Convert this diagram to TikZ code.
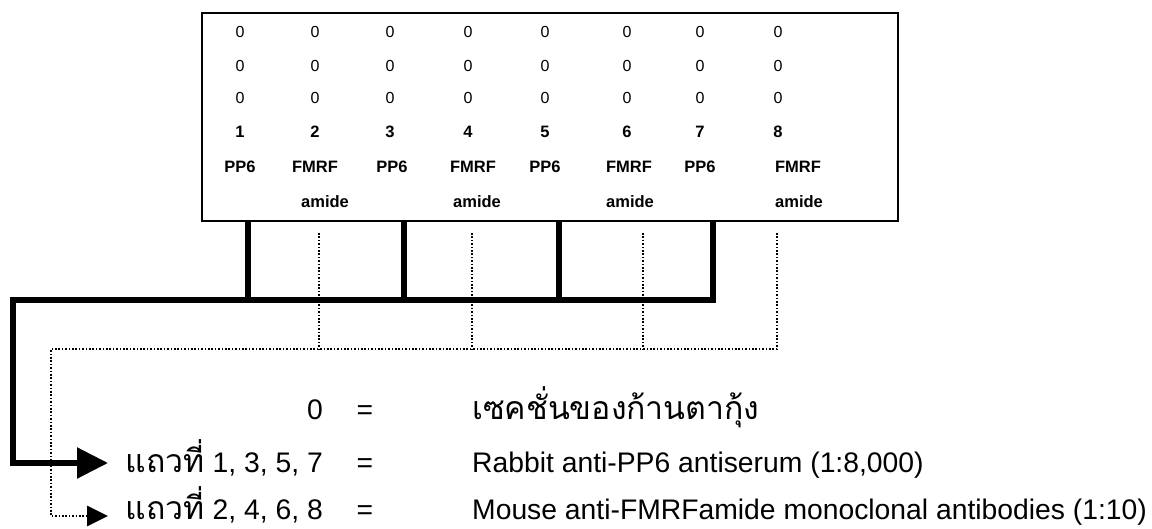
\documentclass[tikz,border=0pt]{standalone}
\usepackage{fontspec}
\setmainfont{Liberation Sans}
\newfontfamily\thaifont[Script=Thai]{Loma}
\usetikzlibrary{arrows.meta}
\newcommand{\thai}[1]{\raisebox{0pt}[\height][0pt]{\thaifont\fontsize{32}{34}\selectfont #1}}
\begin{document}
\begin{tikzpicture}[x=1pt,y=-1pt,
  cell/.style={font=\fontsize{16}{16}\selectfont, inner sep=0pt},
  bcell/.style={font=\fontsize{16.5}{16.5}\selectfont\bfseries, inner sep=0pt},
  leg/.style={font=\fontsize{28.3}{30}\selectfont, inner sep=0pt},
  frame/.style={draw, line width=1.4pt},
  solidlink/.style={line width=5.5pt, line join=miter},
  dotlink/.style={line width=2.8pt, dash pattern=on 1.7pt off 1.7pt},
  bigtip/.style={-{Triangle[length=31pt,width=30pt]}},
  smalltip/.style={-{Triangle[length=21pt,width=20pt]}}]
\useasboundingbox (0,0) rectangle (1152,529);

% box
\node[frame, minimum width=696pt, minimum height=208pt, inner sep=0pt] (box) at (550,117) {};

% zeros
\foreach \x [count=\i] in {240,315,390,468,545,627,700,778}{
  \node[cell] (za\i) at (\x,32) {0};
  \node[cell] (zb\i) at (\x,66) {0};
  \node[cell] (zc\i) at (\x,98) {0};
  \node[bcell] (n\i) at (\x,132) {\i};
}
% labels
\node[bcell] (l1) at (240,167) {PP6};
\node[bcell] (l2) at (315,167) {FMRF};
\node[bcell] (l3) at (392,167) {PP6};
\node[bcell] (l4) at (473,167) {FMRF};
\node[bcell] (l5) at (545,167) {PP6};
\node[bcell] (l6) at (629,167) {FMRF};
\node[bcell] (l7) at (700,167) {PP6};
\node[bcell] (l8) at (798,167) {FMRF};
\node[bcell] (a2) at (325,202) {amide};
\node[bcell] (a4) at (477,202) {amide};
\node[bcell] (a6) at (630,202) {amide};
\node[bcell] (a8) at (799,202) {amide};

% connector coordinates
\coordinate (s1) at (248,300);
\coordinate (s3) at (404,300);
\coordinate (s5) at (559,300);
\coordinate (s7) at (713,300);
\coordinate (sc) at (13,300);
\coordinate (sd) at (13,463);
\coordinate (st) at (108,463);

\coordinate (d2t) at (319,233);
\coordinate (d4t) at (472,233);
\coordinate (d6t) at (643,233);
\coordinate (d8t) at (777,233);
\coordinate (d2) at (319,349);
\coordinate (d4) at (472,349);
\coordinate (d6) at (643,349);
\coordinate (d8) at (777,349);
\coordinate (dc) at (51,349);
\coordinate (dd) at (51,516);
\coordinate (dt) at (108,516);

% solid connectors
\draw[solidlink] (s1 |- box.south) -- (s1);
\draw[solidlink] (s3 |- box.south) -- (s3);
\draw[solidlink] (s5 |- box.south) -- (s5);
\draw[solidlink, bigtip] (s7 |- box.south) -- (s7) -- (sc) -- (sd) -- (st);

% dotted connectors
\draw[dotlink] (d2t) -- (d2);
\draw[dotlink] (d4t) -- (d4);
\draw[dotlink] (d6t) -- (d6);
\draw[dotlink, smalltip] (d8t) -- (d8) -- (dc) -- (dd) -- (dt);

% legend
\node[leg, anchor=base east] (k0) at (323,420) {0};
\node[leg, anchor=base] (e0) at (365,420) {=};
\node[leg, anchor=base west] (v0) at (472,420) {\thai{เซคชั่นของก้านตากุ้ง}};
\node[leg, anchor=base east] (k1) at (323,472) {\thai{แถวที่} 1, 3, 5, 7};
\node[leg, anchor=base] (e1) at (365,472) {=};
\node[leg, anchor=base west] (v1) at (472,472) {Rabbit anti-PP6 antiserum (1:8,000)};
\node[leg, anchor=base east] (k2) at (323,519) {\thai{แถวที่} 2, 4, 6, 8};
\node[leg, anchor=base] (e2) at (365,519) {=};
\node[leg, anchor=base west] (v2) at (472,519) {Mouse anti-FMRFamide monoclonal antibodies (1:10)};
\end{tikzpicture}
\end{document}
